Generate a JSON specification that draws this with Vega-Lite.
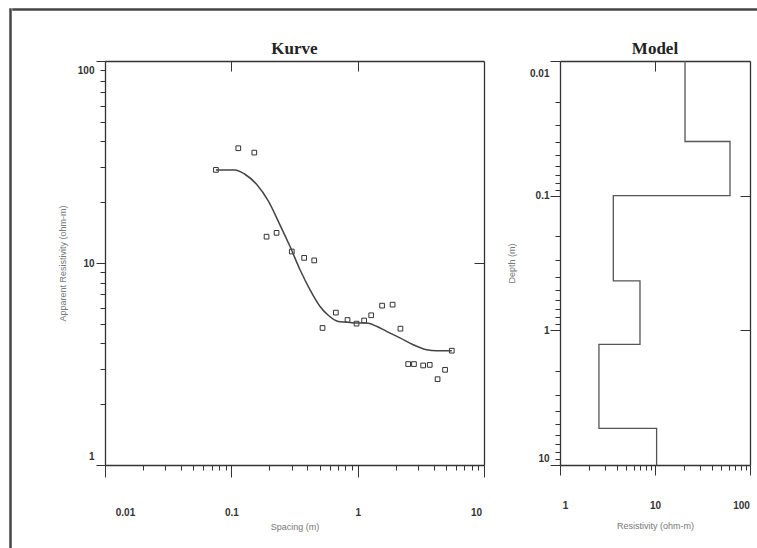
{
  "$schema": "https://vega.github.io/schema/vega-lite/v6.json",
  "background": "white",
  "padding": {"left": 9, "top": 8, "right": 0, "bottom": 0},
  "spacing": 0,
  "config": {
    "view": {"stroke": null},
    "axis": {
      "domainColor": "#333", "domainWidth": 1.3, "tickColor": "#333", "tickWidth": 1,
      "labelFont": "Liberation Sans", "labelFontSize": 10, "labelFontWeight": "bold", "labelColor": "#333",
      "titleFont": "Liberation Sans", "titleFontSize": 9, "titleFontWeight": "normal", "titleColor": "#777",
      "grid": false, "labelOverlap": false, "labelFlush": false, "labelBound": false, "format": "~g"
    },
    "title": {"font": "Liberation Serif", "fontSize": 17, "fontWeight": "bold", "color": "#222"}
  },
  "hconcat": [
    {
      "width": 1, "height": 600,
      "view": {"stroke": "#444", "strokeWidth": 1.5},
      "data": {"values": [{"a": 1}]},
      "mark": {"type": "point", "opacity": 0, "size": 0}
    },
    {
      "spacing": 28,
      "vconcat": [
        {
          "width": 800, "height": 1,
          "view": {"stroke": "#444", "strokeWidth": 1.5},
          "data": {"values": [{"a": 1}]},
          "mark": {"type": "point", "opacity": 0, "size": 0}
        },
        {
          "spacing": 22,
          "hconcat": [
            {
              "width": 23, "height": 10,
              "data": {"values": [{"a": 1}]},
              "mark": {"type": "point", "opacity": 0, "size": 0}
            },
            {
              "width": 379, "height": 404,
              "title": {"text": "Kurve", "offset": 3},
              "resolve": {"axis": {"x": "independent", "y": "independent"}},
              "layer": [
                {
                  "data": {"values": [
                    {"spacing": 0.0755, "rho": 28.9}, {"spacing": 0.1135, "rho": 37}, {"spacing": 0.152, "rho": 35.2},
                    {"spacing": 0.19, "rho": 13.5}, {"spacing": 0.228, "rho": 14.1}, {"spacing": 0.301, "rho": 11.4},
                    {"spacing": 0.377, "rho": 10.6}, {"spacing": 0.453, "rho": 10.3}, {"spacing": 0.527, "rho": 4.77},
                    {"spacing": 0.672, "rho": 5.68}, {"spacing": 0.831, "rho": 5.22}, {"spacing": 0.98, "rho": 5.01},
                    {"spacing": 1.125, "rho": 5.19}, {"spacing": 1.28, "rho": 5.51}, {"spacing": 1.56, "rho": 6.15},
                    {"spacing": 1.89, "rho": 6.22}, {"spacing": 2.18, "rho": 4.73}, {"spacing": 2.51, "rho": 3.16},
                    {"spacing": 2.79, "rho": 3.16}, {"spacing": 3.3, "rho": 3.11}, {"spacing": 3.72, "rho": 3.13},
                    {"spacing": 4.29, "rho": 2.66}, {"spacing": 4.92, "rho": 2.96}, {"spacing": 5.56, "rho": 3.68}
                  ]},
                  "mark": {"type": "point", "shape": "square", "filled": false, "size": 22, "strokeWidth": 1, "color": "#333", "opacity": 1},
                  "encoding": {
                    "x": {
                      "field": "spacing", "type": "quantitative",
                      "scale": {"type": "log", "domain": [0.01, 10], "nice": false},
                      "axis": {
                        "orient": "bottom", "title": "Spacing (m)", "titlePadding": 5,
                        "values": [0.01, 0.02, 0.03, 0.04, 0.05, 0.06, 0.07, 0.08, 0.09, 0.1, 0.2, 0.3, 0.4, 0.5, 0.6, 0.7, 0.8, 0.9, 1, 2, 3, 4, 5, 6, 7, 8, 9, 10],
                        "labelExpr": "indexof([0.01, 0.1, 1, 10], datum.value) >= 0 ? datum.label : ''",
                        "tickSize": {"condition": {"test": "indexof([0.01, 0.1, 1, 10], datum.value) >= 0", "value": 12}, "value": 5},
                        "labelPadding": 30,
                        "labelOffset": {"condition": [{"test": "datum.value == 0.01", "value": 20}, {"test": "datum.value == 10", "value": -8}], "value": 0}
                      }
                    },
                    "y": {
                      "field": "rho", "type": "quantitative",
                      "scale": {"type": "log", "domain": [1, 100], "nice": false},
                      "axis": {
                        "orient": "left", "title": "Apparent Resistivity (ohm-m)", "titlePadding": 10,
                        "values": [1, 2, 3, 4, 5, 6, 7, 8, 9, 10, 20, 30, 40, 50, 60, 70, 80, 90, 100],
                        "labelExpr": "indexof([1, 10, 100], datum.value) >= 0 ? datum.label : ''",
                        "tickSize": {"condition": {"test": "indexof([1, 10, 100], datum.value) >= 0", "value": 9}, "value": 5},
                        "labelPadding": 2,
                        "labelOffset": {"condition": [{"test": "datum.value == 100", "value": 9}, {"test": "datum.value == 1", "value": -9}], "value": 0}
                      }
                    }
                  }
                },
                {
                  "data": {"values": [
                    {"spacing": 0.0755, "rho": 28.9}, {"spacing": 0.1068, "rho": 28.9}, {"spacing": 0.128, "rho": 27.5},
                    {"spacing": 0.159, "rho": 24.5}, {"spacing": 0.196, "rho": 20.3}, {"spacing": 0.242, "rho": 15.5},
                    {"spacing": 0.291, "rho": 12.1}, {"spacing": 0.349, "rho": 9.29}, {"spacing": 0.419, "rho": 7.38},
                    {"spacing": 0.502, "rho": 6.11}, {"spacing": 0.585, "rho": 5.51}, {"spacing": 0.702, "rho": 5.14},
                    {"spacing": 0.817, "rho": 5.1}, {"spacing": 0.98, "rho": 5.05}, {"spacing": 1.175, "rho": 5.05},
                    {"spacing": 1.41, "rho": 4.86}, {"spacing": 1.69, "rho": 4.59}, {"spacing": 2.16, "rho": 4.26},
                    {"spacing": 2.75, "rho": 3.94}, {"spacing": 3.51, "rho": 3.72}, {"spacing": 4.21, "rho": 3.68},
                    {"spacing": 5.56, "rho": 3.68}
                  ]},
                  "mark": {"type": "line", "interpolate": "monotone", "color": "#444", "strokeWidth": 1.5},
                  "encoding": {
                    "x": {"field": "spacing", "type": "quantitative",
                      "axis": {"orient": "top", "title": null, "values": [0.1, 1], "labels": false, "tickSize": -10}},
                    "y": {"field": "rho", "type": "quantitative",
                      "axis": {"orient": "right", "title": null, "values": [10], "labels": false, "tickSize": -10}}
                  }
                }
              ]
            },
            {
              "width": 190, "height": 404,
              "title": {"text": "Model", "offset": 0},
              "resolve": {"axis": {"x": "independent", "y": "independent"}},
              "data": {"values": [
                {"n": 1, "rho": 20.7, "depth": 0.01},
                {"n": 2, "rho": 61.6, "depth": 0.0396},
                {"n": 3, "rho": 3.64, "depth": 0.1},
                {"n": 4, "rho": 6.95, "depth": 0.43},
                {"n": 5, "rho": 2.57, "depth": 1.27},
                {"n": 6, "rho": 10.4, "depth": 5.35},
                {"n": 7, "rho": 10.4, "depth": 10}
              ]},
              "layer": [
                {
                  "mark": {"type": "line", "interpolate": "step-before", "color": "#555", "strokeWidth": 1.3},
                  "encoding": {
                    "order": {"field": "n", "type": "quantitative"},
                    "x": {
                      "field": "rho", "type": "quantitative",
                      "scale": {"type": "log", "domain": [1, 100], "nice": false},
                      "axis": {
                        "orient": "bottom", "title": "Resistivity (ohm-m)", "titlePadding": 11,
                        "values": [1, 2, 3, 4, 5, 6, 7, 8, 9, 10, 20, 30, 40, 50, 60, 70, 80, 90, 100],
                        "labelExpr": "indexof([1, 10, 100], datum.value) >= 0 ? datum.label : ''",
                        "tickSize": {"condition": {"test": "indexof([1, 10, 100], datum.value) >= 0", "value": 10}, "value": 5},
                        "labelPadding": 25,
                        "labelOffset": {"condition": [{"test": "datum.value == 1", "value": 5}, {"test": "datum.value == 100", "value": -9}], "value": 0}
                      }
                    },
                    "y": {
                      "field": "depth", "type": "quantitative",
                      "scale": {"type": "log", "domain": [0.01, 10], "nice": false, "reverse": true},
                      "axis": {
                        "orient": "left", "title": "Depth (m)", "titlePadding": 13,
                        "values": [0.01, 0.02, 0.03, 0.04, 0.05, 0.06, 0.07, 0.08, 0.09, 0.1, 0.2, 0.3, 0.4, 0.5, 0.6, 0.7, 0.8, 0.9, 1, 2, 3, 4, 5, 6, 7, 8, 9, 10],
                        "labelExpr": "indexof([0.01, 0.1, 1, 10], datum.value) >= 0 ? datum.label : ''",
                        "tickSize": {"condition": {"test": "indexof([0.01, 0.1, 1, 10], datum.value) >= 0", "value": 10}, "value": 5},
                        "labelPadding": 1,
                        "labelOffset": {"condition": [{"test": "datum.value == 0.01", "value": 12}, {"test": "datum.value == 10", "value": -7}], "value": 0}
                      }
                    }
                  }
                },
                {
                  "mark": {"type": "line", "opacity": 0},
                  "encoding": {
                    "x": {"field": "rho", "type": "quantitative",
                      "axis": {"orient": "top", "title": null, "values": [10], "labels": false, "tickSize": -10}},
                    "y": {"field": "depth", "type": "quantitative",
                      "axis": {"orient": "right", "title": null, "values": [0.1, 1], "labels": false, "tickSize": -10}}
                  }
                }
              ]
            }
          ]
        }
      ]
    }
  ]
}
